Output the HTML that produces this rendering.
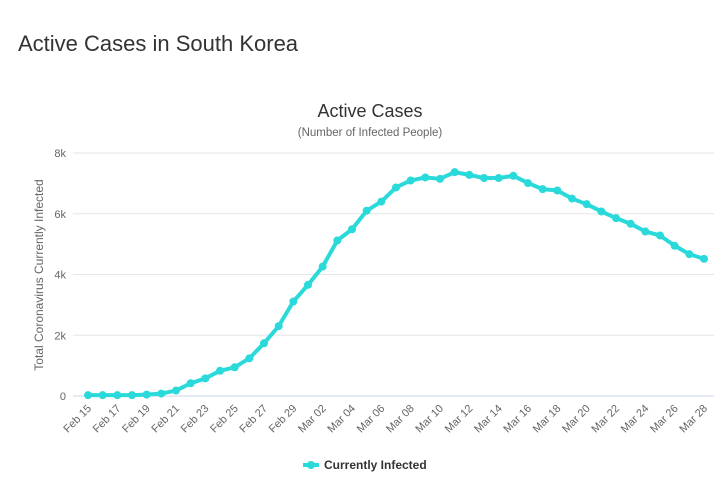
<!DOCTYPE html>
<html><head><meta charset="utf-8"><style>
body{margin:0;background:#fff;font-family:"Liberation Sans",sans-serif;}
#wrap{position:relative;width:728px;height:492px;overflow:hidden;}
h1{position:absolute;left:18px;top:31px;margin:0;font-weight:normal;font-size:22px;color:#333;}
</style></head><body>
<div id="wrap">
<h1>Active Cases in South Korea</h1>
<svg id="chart" width="728" height="492" style="position:absolute;left:0;top:0"></svg>
</div>
<script>
const categories = ["Feb 15","Feb 16","Feb 17","Feb 18","Feb 19","Feb 20","Feb 21","Feb 22","Feb 23","Feb 24","Feb 25","Feb 26","Feb 27","Feb 28","Feb 29","Mar 01","Mar 02","Mar 03","Mar 04","Mar 05","Mar 06","Mar 07","Mar 08","Mar 09","Mar 10","Mar 11","Mar 12","Mar 13","Mar 14","Mar 15","Mar 16","Mar 17","Mar 18","Mar 19","Mar 20","Mar 21","Mar 22","Mar 23","Mar 24","Mar 25","Mar 26","Mar 27","Mar 28"];
const infected = [28,28,28,28,45,80,180,420,580,830,945,1240,1735,2300,3110,3660,4260,5120,5490,6100,6400,6865,7095,7195,7150,7370,7280,7175,7175,7250,7010,6810,6765,6500,6315,6075,5855,5670,5415,5285,4945,4670,4515];
const yTicks = [0,2000,4000,6000,8000];
const yTickLabels = ["0","2k","4k","6k","8k"];

const NS="http://www.w3.org/2000/svg";
const svg=document.getElementById('chart');
const x0=88,x1=704,yBase=396,yTop=153,yMax=8000;
const xs=i=>x0+i*(x1-x0)/(categories.length-1);
const ys=v=>yBase-v/yMax*(yBase-yTop);
function mk(tag,attrs,text){const e=document.createElementNS(NS,tag);for(const k in attrs)e.setAttribute(k,attrs[k]);if(text!=null)e.textContent=text;svg.appendChild(e);return e;}
const F='"Liberation Sans",sans-serif';

let t=mk('text',{x:370,y:117,'text-anchor':'middle','font-size':18,fill:'#333','font-family':F},'Active Cases');


t=mk('text',{x:370,y:136,'text-anchor':'middle','font-size':11.5,fill:'#666','font-family':F},'(Number of Infected People)');



yTicks.forEach((v,i)=>{
  const g=mk('line',{x1:x0-15,x2:x1+10,y1:ys(v),y2:ys(v),stroke:i==0?'#ccd6eb':'#e6e6e6','stroke-width':1});
  
  
  const l=mk('text',{x:66,y:ys(v)+4,'text-anchor':'end','font-size':11,fill:'#666','font-family':F},yTickLabels[i]);
  
  
});
t=mk('text',{x:0,y:0,transform:'translate(43,275) rotate(-90)','text-anchor':'middle','font-size':12,fill:'#666','font-family':F},'Total Coronavirus Currently Infected');



categories.forEach((c,i)=>{
  if(i%2) return;
  const x=xs(i)+4;
  const l=mk('text',{x:0,y:0,transform:`translate(${x},409) rotate(-45)`,'text-anchor':'end','font-size':11,fill:'#666','font-family':F},c);
  
  
});

const pts=infected.map((v,i)=>xs(i)+','+ys(v)).join(' ');
const line=mk('polyline',{points:pts,fill:'none',stroke:'#2ad9d9','stroke-width':4,'stroke-linejoin':'round','stroke-linecap':'round'});


infected.forEach((v,i)=>{
  const p=mk('circle',{cx:xs(i),cy:ys(v),r:4,fill:'#2ad9d9'});
  
  
});

const lg=mk('line',{x1:303,x2:319,y1:465,y2:465,stroke:'#2ad9d9','stroke-width':4});


const lc=mk('circle',{cx:311,cy:465,r:4,fill:'#2ad9d9'});


t=mk('text',{x:324,y:469,'font-size':12,'font-weight':'bold',fill:'#333','font-family':F},'Currently Infected');


</script>
</body></html>
